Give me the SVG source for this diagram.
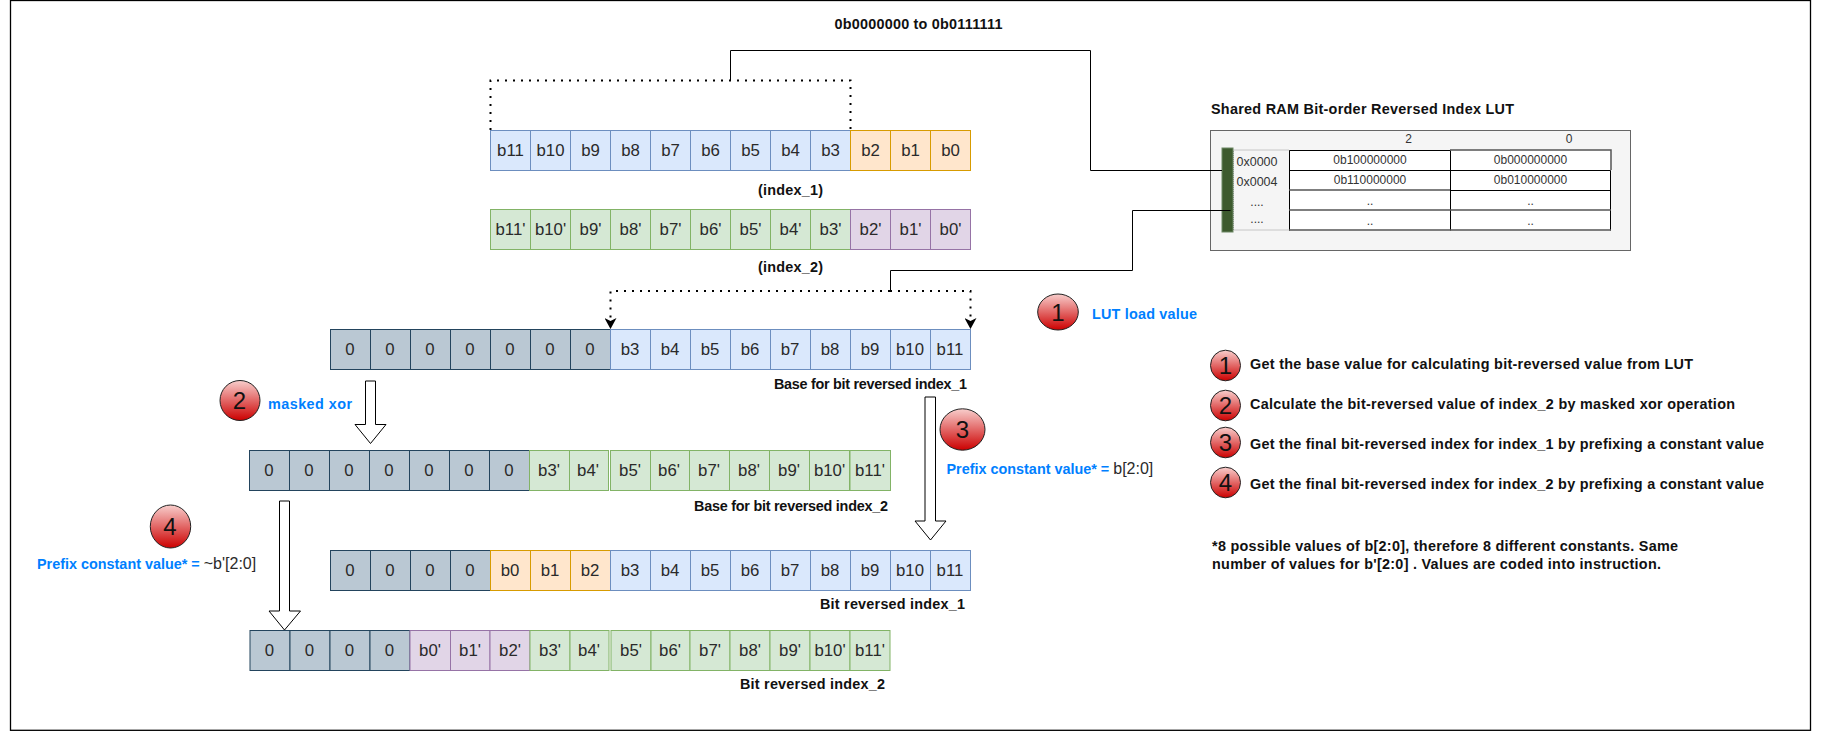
<svg xmlns="http://www.w3.org/2000/svg" width="1830" height="731" viewBox="0 0 1830 731">
<style>
text{font-family:"Liberation Sans",Arial,sans-serif;fill:#000}
.c{font-size:16.8px;text-anchor:middle;fill:#2a2a2a}
.l{font-size:14.4px;font-weight:bold;text-anchor:start;fill:#111}
.b{fill:#007fff}
.r{font-weight:normal;fill:#2a2a2a;font-size:16px}
.t{font-size:12px;text-anchor:middle;fill:#333}
.a{font-size:12.5px;text-anchor:middle;fill:#333}
.n{font-size:24px;text-anchor:middle;fill:#111}
.blue{fill:#dae8fc;stroke:#6c8ebf}
.org{fill:#ffe6cc;stroke:#d79b00}
.grn{fill:#d5e8d4;stroke:#82b366}
.pur{fill:#e1d5e7;stroke:#9673a6}
.gry{fill:#bac8d3;stroke:#23445d}
.dot{fill:none;stroke:#000;stroke-width:2;stroke-dasharray:2 6}
.ln{fill:none;stroke:#000;stroke-width:1}
.hl{fill:#fff;stroke:#000;stroke-width:1}
.ball{fill:url(#red);stroke:#222;stroke-width:1}
</style>
<defs>
<linearGradient id="red" x1="0" y1="0" x2="0" y2="1"><stop offset="0" stop-color="#f8cecc"/><stop offset="1" stop-color="#cc0000"/></linearGradient>
<marker id="tip" markerUnits="userSpaceOnUse" markerWidth="12" markerHeight="12" refX="11" refY="6" orient="auto"><path d="M0 0L11 6L0 12L3 6Z" fill="#000"/></marker>
</defs>
<rect id="frame" x="10.5" y="0.5" width="1800" height="729.8" fill="#fff" stroke="#000" stroke-width="1.3"/>

<g id="title"><text class="l" x="834.500" y="29" textLength="168">0b0000000 to 0b0111111</text></g>

<g id="index_1">
<rect class="blue" x="490.5" y="130.5" width="40" height="40"/><text class="c" x="510.5" y="156">b11</text>
<rect class="blue" x="530.5" y="130.5" width="40" height="40"/><text class="c" x="550.5" y="156">b10</text>
<rect class="blue" x="570.5" y="130.5" width="40" height="40"/><text class="c" x="590.5" y="156">b9</text>
<rect class="blue" x="610.5" y="130.5" width="40" height="40"/><text class="c" x="630.5" y="156">b8</text>
<rect class="blue" x="650.5" y="130.5" width="40" height="40"/><text class="c" x="670.5" y="156">b7</text>
<rect class="blue" x="690.5" y="130.5" width="40" height="40"/><text class="c" x="710.5" y="156">b6</text>
<rect class="blue" x="730.5" y="130.5" width="40" height="40"/><text class="c" x="750.5" y="156">b5</text>
<rect class="blue" x="770.5" y="130.5" width="40" height="40"/><text class="c" x="790.5" y="156">b4</text>
<rect class="blue" x="810.5" y="130.5" width="40" height="40"/><text class="c" x="830.5" y="156">b3</text>
<rect class="org" x="850.5" y="130.5" width="40" height="40"/><text class="c" x="870.5" y="156">b2</text>
<rect class="org" x="890.5" y="130.5" width="40" height="40"/><text class="c" x="910.5" y="156">b1</text>
<rect class="org" x="930.5" y="130.5" width="40" height="40"/><text class="c" x="950.5" y="156">b0</text>
<text class="l" x="758" y="195" textLength="65">(index_1)</text>
</g>

<g id="index_2">
<rect class="grn" x="490.5" y="209.5" width="40" height="40"/><text class="c" x="510.5" y="235">b11'</text>
<rect class="grn" x="530.5" y="209.5" width="40" height="40"/><text class="c" x="550.5" y="235">b10'</text>
<rect class="grn" x="570.5" y="209.5" width="40" height="40"/><text class="c" x="590.5" y="235">b9'</text>
<rect class="grn" x="610.5" y="209.5" width="40" height="40"/><text class="c" x="630.5" y="235">b8'</text>
<rect class="grn" x="650.5" y="209.5" width="40" height="40"/><text class="c" x="670.5" y="235">b7'</text>
<rect class="grn" x="690.5" y="209.5" width="40" height="40"/><text class="c" x="710.5" y="235">b6'</text>
<rect class="grn" x="730.5" y="209.5" width="40" height="40"/><text class="c" x="750.5" y="235">b5'</text>
<rect class="grn" x="770.5" y="209.5" width="40" height="40"/><text class="c" x="790.5" y="235">b4'</text>
<rect class="grn" x="810.5" y="209.5" width="40" height="40"/><text class="c" x="830.5" y="235">b3'</text>
<rect class="pur" x="850.5" y="209.5" width="40" height="40"/><text class="c" x="870.5" y="235">b2'</text>
<rect class="pur" x="890.5" y="209.5" width="40" height="40"/><text class="c" x="910.5" y="235">b1'</text>
<rect class="pur" x="930.5" y="209.5" width="40" height="40"/><text class="c" x="950.5" y="235">b0'</text>
<text class="l" x="758" y="272" textLength="65">(index_2)</text>
</g>

<g id="lut">
<text class="l" x="1211" y="114" textLength="303">Shared RAM Bit-order Reversed Index LUT</text>
<rect x="1210.5" y="130.5" width="420" height="120" fill="#f5f5f5" stroke="#666"/>
<rect x="1233.5" y="150" width="56" height="80" fill="none" stroke="#999" stroke-dasharray="1 1"/>
<rect x="1222" y="148" width="11" height="84" fill="#3d5a2e" stroke="#6d8764"/>
<rect x="1289.5" y="150.5" width="321" height="80" fill="#fff"/>
<path class="ln" d="M1289.5 150.5H1450.5M1289.5 170.5H1610.5M1450.5 190.5H1610.5M1289.5 150.5V230.5M1450.5 150.5V230.5M1610.5 170.5V230.5"/>
<path d="M1450 150H1611V170M1289 190H1450M1289 210H1611M1289 230H1611" fill="none" stroke="#555" stroke-width="1.5"/>
<text class="t" x="1408.5" y="142.5">2</text><text class="t" x="1569" y="142.5">0</text>
<text class="a" x="1257" y="166">0x0000</text><text class="a" x="1257" y="186">0x0004</text>
<text class="t" x="1257" y="206">....</text><text class="t" x="1257" y="223">....</text>
<text class="t" x="1370" y="164">0b100000000</text><text class="t" x="1530.5" y="164">0b000000000</text>
<text class="t" x="1370" y="184">0b110000000</text><text class="t" x="1530.5" y="184">0b010000000</text>
<text class="t" x="1370" y="205">..</text><text class="t" x="1530.5" y="205">..</text>
<text class="t" x="1370" y="225">..</text><text class="t" x="1530.5" y="225">..</text>
</g>

<g id="base_1">
<rect class="gry" x="330.5" y="329.5" width="40" height="40"/><text class="c" x="350" y="355">0</text>
<rect class="gry" x="370.5" y="329.5" width="40" height="40"/><text class="c" x="390" y="355">0</text>
<rect class="gry" x="410.5" y="329.5" width="40" height="40"/><text class="c" x="430" y="355">0</text>
<rect class="gry" x="450.5" y="329.5" width="40" height="40"/><text class="c" x="470" y="355">0</text>
<rect class="gry" x="490.5" y="329.5" width="40" height="40"/><text class="c" x="510" y="355">0</text>
<rect class="gry" x="530.5" y="329.5" width="40" height="40"/><text class="c" x="550" y="355">0</text>
<rect class="gry" x="570.5" y="329.5" width="40" height="40"/><text class="c" x="590" y="355">0</text>
<rect class="blue" x="610.5" y="329.5" width="40" height="40"/><text class="c" x="630" y="355">b3</text>
<rect class="blue" x="650.5" y="329.5" width="40" height="40"/><text class="c" x="670" y="355">b4</text>
<rect class="blue" x="690.5" y="329.5" width="40" height="40"/><text class="c" x="710" y="355">b5</text>
<rect class="blue" x="730.5" y="329.5" width="40" height="40"/><text class="c" x="750" y="355">b6</text>
<rect class="blue" x="770.5" y="329.5" width="40" height="40"/><text class="c" x="790" y="355">b7</text>
<rect class="blue" x="810.5" y="329.5" width="40" height="40"/><text class="c" x="830" y="355">b8</text>
<rect class="blue" x="850.5" y="329.5" width="40" height="40"/><text class="c" x="870" y="355">b9</text>
<rect class="blue" x="890.5" y="329.5" width="40" height="40"/><text class="c" x="910" y="355">b10</text>
<rect class="blue" x="930.5" y="329.5" width="40" height="40"/><text class="c" x="950" y="355">b11</text>
<text class="l" x="774" y="389" textLength="193">Base for bit reversed index_1</text>
</g>

<g id="base_2">
<rect class="gry" x="249.5" y="450.5" width="40" height="40"/><text class="c" x="269" y="476">0</text>
<rect class="gry" x="289.5" y="450.5" width="40" height="40"/><text class="c" x="309" y="476">0</text>
<rect class="gry" x="329.5" y="450.5" width="40" height="40"/><text class="c" x="349" y="476">0</text>
<rect class="gry" x="369.5" y="450.5" width="40" height="40"/><text class="c" x="389" y="476">0</text>
<rect class="gry" x="409.5" y="450.5" width="40" height="40"/><text class="c" x="429" y="476">0</text>
<rect class="gry" x="449.5" y="450.5" width="40" height="40"/><text class="c" x="469" y="476">0</text>
<rect class="gry" x="489.5" y="450.5" width="40" height="40"/><text class="c" x="509" y="476">0</text>
<rect class="grn" x="529.5" y="450.5" width="40" height="40"/><text class="c" x="549" y="476">b3'</text>
<rect class="grn" x="569.5" y="450.5" width="39" height="40"/><text class="c" x="588" y="476">b4'</text>
<rect class="grn" x="610.5" y="450.5" width="40" height="40"/><text class="c" x="630" y="476">b5'</text>
<rect class="grn" x="650.5" y="450.5" width="39" height="40"/><text class="c" x="669" y="476">b6'</text>
<rect class="grn" x="689.5" y="450.5" width="40" height="40"/><text class="c" x="709" y="476">b7'</text>
<rect class="grn" x="729.5" y="450.5" width="40" height="40"/><text class="c" x="749" y="476">b8'</text>
<rect class="grn" x="769.5" y="450.5" width="40" height="40"/><text class="c" x="789" y="476">b9'</text>
<rect class="grn" x="809.5" y="450.5" width="40" height="40"/><text class="c" x="829.5" y="476">b10'</text>
<rect class="grn" x="850" y="450.5" width="40.5" height="40"/><text class="c" x="870" y="476">b11'</text>
<text class="l" x="694" y="511" textLength="194">Base for bit reversed index_2</text>
</g>

<g id="reversed_1">
<rect class="gry" x="330.5" y="550.5" width="40" height="40"/><text class="c" x="350" y="576">0</text>
<rect class="gry" x="370.5" y="550.5" width="40" height="40"/><text class="c" x="390" y="576">0</text>
<rect class="gry" x="410.5" y="550.5" width="40" height="40"/><text class="c" x="430" y="576">0</text>
<rect class="gry" x="450.5" y="550.5" width="40" height="40"/><text class="c" x="470" y="576">0</text>
<rect class="org" x="490.5" y="550.5" width="40" height="40"/><text class="c" x="510" y="576">b0</text>
<rect class="org" x="530.5" y="550.5" width="40" height="40"/><text class="c" x="550" y="576">b1</text>
<rect class="org" x="570.5" y="550.5" width="40" height="40"/><text class="c" x="590" y="576">b2</text>
<rect class="blue" x="610.5" y="550.5" width="40" height="40"/><text class="c" x="630" y="576">b3</text>
<rect class="blue" x="650.5" y="550.5" width="40" height="40"/><text class="c" x="670" y="576">b4</text>
<rect class="blue" x="690.5" y="550.5" width="40" height="40"/><text class="c" x="710" y="576">b5</text>
<rect class="blue" x="730.5" y="550.5" width="40" height="40"/><text class="c" x="750" y="576">b6</text>
<rect class="blue" x="770.5" y="550.5" width="40" height="40"/><text class="c" x="790" y="576">b7</text>
<rect class="blue" x="810.5" y="550.5" width="40" height="40"/><text class="c" x="830" y="576">b8</text>
<rect class="blue" x="850.5" y="550.5" width="40" height="40"/><text class="c" x="870" y="576">b9</text>
<rect class="blue" x="890.5" y="550.5" width="40" height="40"/><text class="c" x="910" y="576">b10</text>
<rect class="blue" x="930.5" y="550.5" width="40" height="40"/><text class="c" x="950" y="576">b11</text>
<text class="l" x="820" y="609" textLength="145">Bit reversed index_1</text>
</g>

<g id="reversed_2">
<rect class="gry" x="250" y="630.5" width="40" height="40"/><text class="c" x="269.5" y="656">0</text>
<rect class="gry" x="290" y="630.5" width="40" height="40"/><text class="c" x="309.5" y="656">0</text>
<rect class="gry" x="330" y="630.5" width="40" height="40"/><text class="c" x="349.5" y="656">0</text>
<rect class="gry" x="370" y="630.5" width="40" height="40"/><text class="c" x="389.5" y="656">0</text>
<rect class="pur" x="410" y="630.5" width="40.5" height="40"/><text class="c" x="430" y="656">b0'</text>
<rect class="pur" x="450.5" y="630.5" width="39.5" height="40"/><text class="c" x="470" y="656">b1'</text>
<rect class="pur" x="490" y="630.5" width="40" height="40"/><text class="c" x="510" y="656">b2'</text>
<rect class="grn" x="530" y="630.5" width="40" height="40"/><text class="c" x="550" y="656">b3'</text>
<rect class="grn" x="570" y="630.5" width="39" height="40"/><text class="c" x="589" y="656">b4'</text>
<rect class="grn" x="611" y="630.5" width="40" height="40"/><text class="c" x="631" y="656">b5'</text>
<rect class="grn" x="651" y="630.5" width="39" height="40"/><text class="c" x="670" y="656">b6'</text>
<rect class="grn" x="690" y="630.5" width="40" height="40"/><text class="c" x="710" y="656">b7'</text>
<rect class="grn" x="730" y="630.5" width="40" height="40"/><text class="c" x="750" y="656">b8'</text>
<rect class="grn" x="770" y="630.5" width="40" height="40"/><text class="c" x="790" y="656">b9'</text>
<rect class="grn" x="810" y="630.5" width="40" height="40"/><text class="c" x="830" y="656">b10'</text>
<rect class="grn" x="850" y="630.5" width="40" height="40"/><text class="c" x="870" y="656">b11'</text>
<text class="l" x="740" y="689" textLength="145">Bit reversed index_2</text>
</g>

<g id="step-1"><ellipse class="ball" cx="1058" cy="312" rx="20.3" ry="18"/><text class="n" x="1058" y="321">1</text><text class="l b" x="1092" y="319" textLength="105">LUT load value</text></g>
<g id="step-2"><circle class="ball" cx="240" cy="400.5" r="20"/><text class="n" x="239.500" y="409">2</text><text class="l b" x="268" y="409" textLength="84">masked xor</text></g>
<g id="step-3"><ellipse class="ball" cx="962.5" cy="429.5" rx="22.5" ry="20.7"/><text class="n" x="962.5" y="438">3</text><text class="l b" x="946.500" y="474">Prefix constant value* = <tspan class="r">b[2:0]</tspan></text></g>
<g id="step-4"><ellipse class="ball" cx="170.500" cy="526.500" rx="20.200" ry="21.500"/><text class="n" x="170" y="535">4</text><text class="l b" x="37" y="569">Prefix constant value* = <tspan class="r">~b'[2:0]</tspan></text></g>

<g id="legend">
<ellipse class="ball" cx="1225.500" cy="365.500" rx="15" ry="15.300"/><text class="n" x="1225.500" y="374">1</text>
<ellipse class="ball" cx="1225.500" cy="405.500" rx="15" ry="15.300"/><text class="n" x="1225.500" y="414">2</text>
<ellipse class="ball" cx="1225.500" cy="442.500" rx="15" ry="15.300"/><text class="n" x="1225.500" y="451">3</text>
<ellipse class="ball" cx="1225.500" cy="482.500" rx="15" ry="15.300"/><text class="n" x="1225.500" y="491">4</text>
<text class="l" x="1250" y="369" textLength="443">Get the base value for calculating bit-reversed value from LUT</text>
<text class="l" x="1250" y="409" textLength="485">Calculate the bit-reversed value of index_2 by masked xor operation</text>
<text class="l" x="1250" y="449" textLength="514">Get the final bit-reversed index for index_1 by prefixing a constant value</text>
<text class="l" x="1250" y="489" textLength="514">Get the final bit-reversed index for index_2 by prefixing a constant value</text>
<text class="l" x="1212" y="551" textLength="466">*8 possible values of b[2:0], therefore 8 different constants. Same</text>
<text class="l" x="1212" y="569" textLength="449">number of values for b'[2:0] . Values are coded into instruction.</text>
</g>

<g id="connectors">
<path class="dot" d="M490.5 130V80.5H850.5V130"/>
<path class="ln" d="M730.5 80V50.5H1090.5V170.5H1222"/>
<path class="dot" d="M890 291H610.5V329" marker-end="url(#tip)"/>
<path class="dot" d="M890 291H970.5V329" marker-end="url(#tip)"/>
<path class="ln" d="M890.5 291V270.5H1132.5V210.5H1230.5"/>
<path id="arrow-2" class="hl" d="M365.5 381H375.5V424.5H386L370.5 443.5L355 424.5H365.5Z"/>
<path id="arrow-3" class="hl" d="M925 397H935.5V521H946L930.5 540L915 521H925Z"/>
<path id="arrow-4" class="hl" d="M279.5 501H289.5V611H300.5L284.5 630L269 611H279.5Z"/>
</g>
</svg>
